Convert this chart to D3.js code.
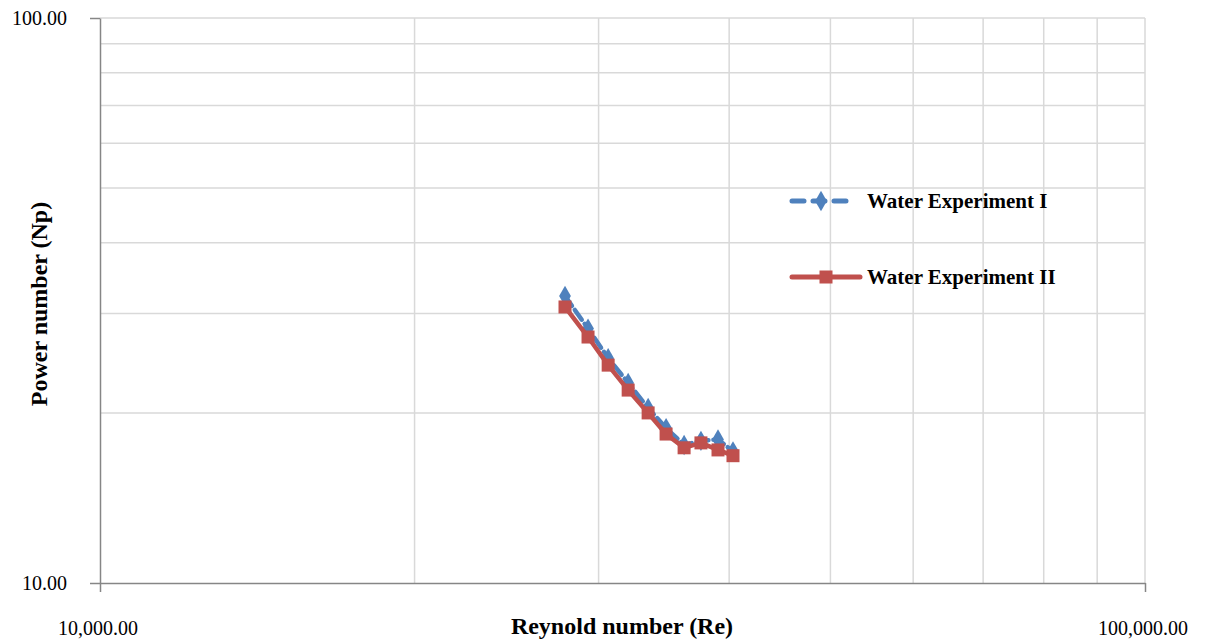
<!DOCTYPE html>
<html>
<head>
<meta charset="utf-8">
<script src="https://cdn.jsdelivr.net/npm/d3@7"></script>
<style>
  body { margin: 0; background: #fff; }
  text { font-family: "Liberation Serif", "Times New Roman", serif; fill: #000; }
</style>
</head>
<body>
<svg width="1207" height="641"></svg>
<script>
// Reynold numbers (shared by both runs)
var reynolds = [27860, 29310, 30640, 32020, 33460, 34810, 36220, 37590, 39030, 40340];
// Power numbers
var waterI  = [32.2, 28.2, 25.0, 22.6, 20.4, 18.8, 17.55, 17.85, 17.95, 17.1];
var waterII = [30.8, 27.25, 24.3, 21.95, 20.0, 18.35, 17.35, 17.7, 17.2, 16.8];
var seriesNames = ["Water Experiment I", "Water Experiment II"];
var xTickLabels = ["10,000.00", "100,000.00"];
var yTickLabels = ["10.00", "100.00"];

var svg = d3.select("svg"),
    plotLeft = 100, plotRight = 1145, plotTop = 18, plotBottom = 583;

var x = d3.scaleLog().domain([10000, 100000]).range([plotLeft, plotRight]);
var y = d3.scaleLog().domain([10, 100]).range([plotBottom, plotTop]);

// gridlines
var xGrid = d3.range(2, 11).map(function(d) { return d * 10000; });
var yGrid = d3.range(2, 11).map(function(d) { return d * 10; });

svg.append("g").selectAll("line").data(xGrid).enter().append("line")
    .attr("x1", function(d) { return x(d); }).attr("x2", function(d) { return x(d); })
    .attr("y1", plotTop).attr("y2", plotBottom)
    .attr("stroke", "#d9d9d9").attr("stroke-width", 1.5);

svg.append("g").selectAll("line").data(yGrid).enter().append("line")
    .attr("x1", plotLeft).attr("x2", plotRight)
    .attr("y1", function(d) { return y(d); }).attr("y2", function(d) { return y(d); })
    .attr("stroke", "#d9d9d9").attr("stroke-width", 1.5);

// axes
var xAxis = d3.axisBottom(x).tickValues([10000, 100000]).tickFormat("").tickSize(9).tickSizeOuter(0);
var yAxis = d3.axisLeft(y).tickValues([10, 100]).tickFormat("").tickSize(10).tickSizeOuter(0);

svg.append("g").attr("transform", "translate(0," + plotBottom + ")").call(xAxis)
  .call(function(g) { g.selectAll("path,line").attr("stroke", "#868686").attr("stroke-width", 1.5); });
svg.append("g").attr("transform", "translate(" + plotLeft + ",0)").call(yAxis)
  .call(function(g) { g.selectAll("path,line").attr("stroke", "#868686").attr("stroke-width", 1.5); });

// tick labels
svg.selectAll(".ylab").data([10, 100]).enter().append("text")
    .attr("x", 67).attr("y", function(d) { return y(d) + 7; })
    .attr("text-anchor", "end").attr("font-size", 20)
    .text(function(d, i) { return yTickLabels[i]; });

svg.selectAll(".xlab").data([10000, 100000]).enter().append("text")
    .attr("x", function(d) { return x(d) - 2; }).attr("y", 635)
    .attr("text-anchor", "middle").attr("font-size", 20)
    .text(function(d, i) { return xTickLabels[i]; });

// axis titles
svg.append("text").attr("x", 622).attr("y", 634).attr("text-anchor", "middle")
    .attr("font-size", 24).attr("font-weight", "bold").text("Reynold number (Re)");
svg.append("text").attr("transform", "translate(47,304) rotate(-90)").attr("text-anchor", "middle")
    .attr("font-size", 24).attr("font-weight", "bold").text("Power number (Np)");

var line = d3.line()
    .x(function(d) { return x(d[0]); })
    .y(function(d) { return y(d[1]); });

var dataI = reynolds.map(function(r, i) { return [r, waterI[i]]; });
var dataII = reynolds.map(function(r, i) { return [r, waterII[i]]; });

var diamond = d3.symbol().type(d3.symbolDiamond).size(120);

// series I - blue dashed with diamonds
svg.append("path").datum(dataI).attr("d", line)
    .attr("fill", "none").attr("stroke", "#4f81bd").attr("stroke-width", 4.5)
    .attr("stroke-dasharray", "12,5").attr("stroke-linecap", "round");
svg.selectAll(".dI").data(dataI).enter().append("path")
    .attr("d", diamond)
    .attr("transform", function(d) { return "translate(" + x(d[0]) + "," + y(d[1]) + ")"; })
    .attr("fill", "#4f81bd");

// series II - red solid with squares
svg.append("path").datum(dataII).attr("d", line)
    .attr("fill", "none").attr("stroke", "#c0504d").attr("stroke-width", 4.5);
svg.selectAll(".dII").data(dataII).enter().append("rect")
    .attr("x", function(d) { return x(d[0]) - 6.5; })
    .attr("y", function(d) { return y(d[1]) - 6.5; })
    .attr("width", 13).attr("height", 13)
    .attr("fill", "#c0504d");

// legend
var legend = svg.append("g");
var lg1 = legend.append("g").attr("transform", "translate(790,201)");
lg1.append("line").attr("x1", 2).attr("x2", 60).attr("y1", 0).attr("y2", 0)
    .attr("stroke", "#4f81bd").attr("stroke-width", 5)
    .attr("stroke-dasharray", "12,9").attr("stroke-linecap", "round");
lg1.append("path").attr("d", diamond).attr("transform", "translate(31,0)").attr("fill", "#4f81bd");
lg1.append("text").attr("x", 77).attr("y", 7).attr("font-size", 21).attr("font-weight", "bold").text(seriesNames[0]);

var lg2 = legend.append("g").attr("transform", "translate(790,277)");
lg2.append("line").attr("x1", 2).attr("x2", 70).attr("y1", 0).attr("y2", 0)
    .attr("stroke", "#c0504d").attr("stroke-width", 5).attr("stroke-linecap", "round");
lg2.append("rect").attr("x", 29.5).attr("y", -6.5).attr("width", 13).attr("height", 13).attr("fill", "#c0504d");
lg2.append("text").attr("x", 77).attr("y", 7).attr("font-size", 21).attr("font-weight", "bold").text(seriesNames[1]);
</script>
</body>
</html>
